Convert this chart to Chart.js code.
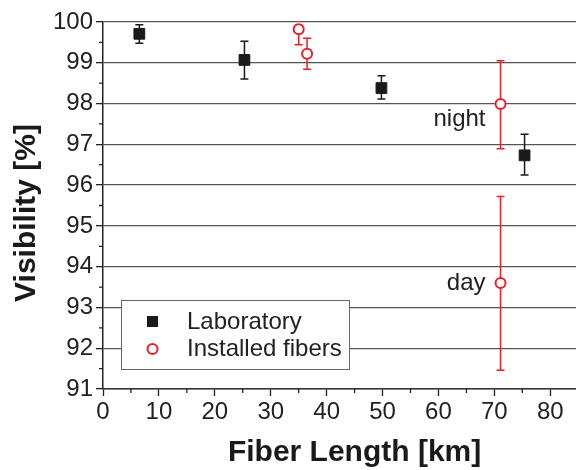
<!DOCTYPE html>
<html>
<head>
<meta charset="utf-8">
<script src="https://cdn.jsdelivr.net/npm/chart.js@4/dist/chart.umd.min.js"></script>
<style>
  html, body { margin: 0; padding: 0; background: #fff; }
</style>
</head>
<body>
<canvas id="chart" width="576" height="470"></canvas>
<script>
// -----------------------------
// Data
// -----------------------------
const labLength = [6.5, 25.3, 49.8, 75.4];
const labVis    = [99.71, 99.07, 98.38, 96.73];
const labLow    = [99.48, 98.60, 98.11, 96.25];
const labHigh   = [99.93, 99.53, 98.68, 97.25];

const fibLength = [35.0, 36.5, 71.1, 71.1];
const fibVis    = [99.82, 99.22, 97.99, 93.60];
const fibLow    = [99.44, 98.84, 96.89, 91.46];
const fibHigh   = [99.92, 99.60, 99.05, 95.72];
const fibNotes  = ['', '', 'night', 'day'];

const xTicks = [0, 10, 20, 30, 40, 50, 60, 70, 80];
const yTicks = [91, 92, 93, 94, 95, 96, 97, 98, 99, 100];
const xMinor = [5, 15, 25, 35, 45, 55, 65, 75, 85];
const yMinor = [91.5, 92.5, 93.5, 94.5, 95.5, 96.5, 97.5, 98.5, 99.5];

const RED = '#e8202a';
const BLK = '#1a1a1a';
const FONT = "'Liberation Sans', Arial, sans-serif";

const errSeries = [
  { xs: labLength, low: labLow, high: labHigh, color: BLK },
  { xs: fibLength, low: fibLow, high: fibHigh, color: RED }
];

// -----------------------------
// Error bars, minor ticks, notes, legend, titles
// -----------------------------
const extras = {
  id: 'extras',
  beforeDatasetsDraw(chart) {
    const { ctx, scales: { x, y } } = chart;
    ctx.save();
    ctx.lineWidth = 1.5;
    errSeries.forEach(s => {
      ctx.strokeStyle = s.color;
      s.xs.forEach((xv, i) => {
        const px = x.getPixelForValue(xv);
        const lo = y.getPixelForValue(s.low[i]);
        const hi = y.getPixelForValue(s.high[i]);
        ctx.beginPath();
        ctx.moveTo(px, lo); ctx.lineTo(px, hi);
        ctx.moveTo(px - 4, lo); ctx.lineTo(px + 4, lo);
        ctx.moveTo(px - 4, hi); ctx.lineTo(px + 4, hi);
        ctx.stroke();
      });
    });
    ctx.restore();
  },
  afterDraw(chart) {
    const { ctx, chartArea: a, scales: { x, y } } = chart;
    ctx.save();

    // minor ticks
    ctx.strokeStyle = '#222';
    ctx.lineWidth = 1.3;
    ctx.beginPath();
    yMinor.forEach(v => {
      const py = y.getPixelForValue(v);
      ctx.moveTo(a.left - 4, py); ctx.lineTo(a.left, py);
    });
    xMinor.forEach(v => {
      const px = x.getPixelForValue(v);
      ctx.moveTo(px, a.bottom); ctx.lineTo(px, a.bottom + 4);
    });
    ctx.stroke();

    // night / day notes
    ctx.fillStyle = '#222';
    ctx.font = '24px ' + FONT;
    ctx.textAlign = 'right';
    ctx.textBaseline = 'middle';
    fibNotes.forEach((t, i) => {
      if (!t) return;
      const px = x.getPixelForValue(fibLength[i]);
      const py = y.getPixelForValue(fibVis[i]);
      ctx.fillText(t, px - 15, t === 'night' ? py + 15 : py);
    });

    // legend box
    const lx = 121, ly = 300, lw = 228, lh = 69;
    ctx.fillStyle = '#fff';
    ctx.fillRect(lx, ly, lw, lh);
    ctx.strokeStyle = '#666';
    ctx.lineWidth = 1;
    ctx.strokeRect(lx + 0.5, ly + 0.5, lw, lh);
    const ds = chart.data.datasets;
    ctx.textAlign = 'left';
    ctx.fillStyle = '#222';
    ctx.fillText(ds[0].label, 187, 322);
    ctx.fillText(ds[1].label, 187, 349);
    ctx.fillStyle = BLK;
    ctx.fillRect(147, 316, 11, 11);
    ctx.beginPath();
    ctx.arc(152.5, 349, 5, 0, Math.PI * 2);
    ctx.fillStyle = '#fff';
    ctx.fill();
    ctx.strokeStyle = RED;
    ctx.lineWidth = 2;
    ctx.stroke();

    // axis titles
    ctx.fillStyle = '#1a1a1a';
    ctx.font = 'bold 30px ' + FONT;
    ctx.textAlign = 'center';
    ctx.fillText('Fiber Length [km]', x.getPixelForValue(45), 453);
    ctx.translate(27, 213);
    ctx.rotate(-Math.PI / 2);
    ctx.fillText('Visibility [%]', 0, 0);
    ctx.restore();
  }
};

Chart.defaults.font.family = FONT;
Chart.defaults.color = '#222';

new Chart(document.getElementById('chart'), {
  type: 'scatter',
  data: {
    datasets: [
      {
        label: 'Laboratory',
        data: labLength.map((v, i) => ({ x: v, y: labVis[i] })),
        pointStyle: 'rect',
        pointRadius: 7.6,
        backgroundColor: BLK,
        borderColor: BLK,
        borderWidth: 1
      },
      {
        label: 'Installed fibers',
        data: fibLength.map((v, i) => ({ x: v, y: fibVis[i] })),
        pointStyle: 'circle',
        pointRadius: 5,
        backgroundColor: '#fff',
        borderColor: RED,
        borderWidth: 2
      }
    ]
  },
  options: {
    responsive: false,
    animation: false,
    layout: { autoPadding: false, padding: { top: 22, left: 0, right: 0, bottom: 0 } },
    plugins: { legend: { display: false }, tooltip: { enabled: false } },
    scales: {
      x: {
        type: 'linear',
        min: 0,
        max: 84.6,
        afterBuildTicks: s => { s.ticks = xTicks.map(v => ({ value: v })); },
        afterFit: s => { s.height = 81; },
        grid: { drawOnChartArea: false, drawTicks: true, tickLength: 7, tickColor: '#222', tickWidth: 1.3 },
        border: { display: true, color: '#333', width: 1.5 },
        ticks: { font: { size: 24 }, padding: 2, maxRotation: 0 }
      },
      y: {
        type: 'linear',
        min: 91,
        max: 100,
        afterBuildTicks: s => { s.ticks = yTicks.map(v => ({ value: v })); },
        afterFit: s => { s.width = 103; },
        grid: { color: '#555', lineWidth: 1.3, drawTicks: true, tickLength: 7, tickColor: '#222', tickWidth: 1.3 },
        border: { display: true, color: '#222', width: 1.5 },
        ticks: { font: { size: 24 }, padding: 3 }
      }
    }
  },
  plugins: [extras]
});
</script>
</body>
</html>
